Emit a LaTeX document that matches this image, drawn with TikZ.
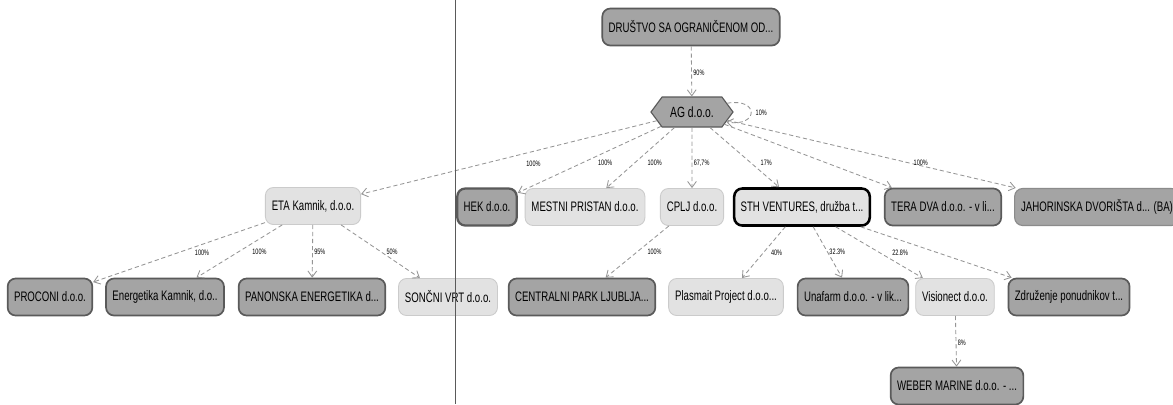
\documentclass[tikz,border=0pt]{standalone}
\usepackage{fontspec}
\newfontfamily\narrowfont[FakeStretch=0.7]{Liberation Sans}
\usetikzlibrary{shapes.symbols,arrows.meta,positioning}
\definecolor{boxlight}{HTML}{E2E2E2}
\definecolor{boxdark}{HTML}{A4A4A4}
\definecolor{rimdark}{HTML}{5A5A5A}
\definecolor{linkgray}{HTML}{959595}

\begin{document}
\begin{tikzpicture}[x=0.025cm, y=-0.025cm,
  firm/.style={rectangle, rounded corners=0.2cm, minimum height=0.925cm, inner xsep=0.16cm, font=\narrowfont\fontsize{9.8}{10}\selectfont,
    fill=boxlight, draw=boxlight!90!black, line width=0.6pt},
  firmdark/.style={firm, fill=boxdark, draw=rimdark, line width=1.2pt},
  firmsel/.style={firm, draw=black, line width=1.8pt},
  hexfirm/.style={signal, signal to=east and west, signal pointer angle=107, minimum width=2.05cm, minimum height=0.75cm,
    font=\narrowfont\fontsize{10.5}{11}\selectfont, fill=boxdark, draw=rimdark, line width=0.8pt, inner xsep=0.1cm},
  link/.style={-{Straight Barb[length=1.5mm, width=2.2mm]}, densely dashed, linkgray, line width=0.6pt},
  lbl/.style={font=\narrowfont\fontsize{5.6}{6}\selectfont, text=black, anchor=west, inner sep=1pt}
]
  \useasboundingbox (0,0) rectangle (1173,404);
  \clip (0,0) rectangle (1173,404);
  \fill[white] (0,0) rectangle (1173,404);

  % owner and holding
  \node[firmdark] (drustvo) at (691,27) {DRUŠTVO SA OGRANIČENOM OD...};
  \node[hexfirm] (ag) at (692,112) {AG d.o.o.};

  % first level
  \node[firm] (eta) at (313,206) {ETA Kamnik, d.o.o.};
  \node[firmdark, line width=1.6pt] (hek) at (487,207) {HEK d.o.o.};
  \node[firm] (mestni) at (585,207) {MESTNI PRISTAN d.o.o.};
  \node[firm] (cplj) at (692,207) {CPLJ d.o.o.};
  \node[firmsel] (sth) at (802,207) {STH VENTURES, družba t...};
  \node[firmdark] (teradva) at (943,207) {TERA DVA d.o.o. - v li...};
  \node[firmdark, draw=boxdark!85!black, line width=0.8pt] (jahorinska) at (1097,207) {JAHORINSKA DVORIŠTA d... (BA)};

  % second level
  \node[firmdark] (proconi) at (50,297) {PROCONI d.o.o.};
  \node[firmdark] (energetika) at (165,297) {Energetika Kamnik, d.o..};
  \node[firmdark] (panonska) at (312,297) {PANONSKA ENERGETIKA d...};
  \node[firm] (soncni) at (448,297) {SONČNI VRT d.o.o.};
  \node[firmdark] (centralni) at (582,297) {CENTRALNI PARK LJUBLJA...};
  \node[firm] (plasmait) at (726,297) {Plasmait Project d.o.o...};
  \node[firmdark] (unafarm) at (853,297) {Unafarm d.o.o. - v lik...};
  \node[firm] (visionect) at (955,297) {Visionect d.o.o.};
  \node[firmdark] (zdruzenje) at (1069,297) {Združenje ponudnikov t...};
  \node[firmdark] (weber) at (957,386) {WEBER MARINE d.o.o. - ...};

  % ownership links
  \draw[link] (drustvo) -- node[lbl, pos=0.53] {90\%} (ag);
  \draw[link] (ag.14) to[out=10, in=-10, looseness=4.5] node[lbl, pos=0.5, xshift=2] {10\%} (ag.-16);
  \draw[link] (ag) -- node[lbl, pos=0.58, xshift=28] {100\%} (eta);
  \draw[link] (ag) -- node[lbl, pos=0.55, xshift=10] {100\%} (hek);
  \draw[link] (ag) -- node[lbl, pos=0.585, xshift=8] {100\%} (mestni);
  \draw[link] (ag) -- node[lbl, pos=0.585] {67,7\%} (cplj);
  \draw[link] (ag) -- node[lbl, pos=0.585, xshift=6] {17\%} (sth);
  \draw[link] (ag) -- (teradva);
  \draw[link] (ag) -- node[lbl, pos=0.63, xshift=2] {100\%} (jahorinska);

  \draw[link] (eta) -- node[lbl, pos=0.5, xshift=10] {100\%} (proconi);
  \draw[link] (eta) -- node[lbl, pos=0.5, xshift=8] {100\%} (energetika);
  \draw[link] (eta) -- node[lbl, pos=0.5] {95\%} (panonska);
  \draw[link] (eta) -- node[lbl, pos=0.5, xshift=3] {50\%} (soncni);
  \draw[link] (cplj) -- node[lbl, pos=0.5, xshift=6] {100\%} (centralni);
  \draw[link] (sth) -- node[lbl, pos=0.5, xshift=4] {40\%} (plasmait);
  \draw[link] (sth) -- node[lbl, pos=0.5] {32.3\%} (unafarm);
  \draw[link] (sth) -- node[lbl, pos=0.5, xshift=8] {22.8\%} (visionect);
  \draw[link] (sth) -- (zdruzenje);
  \draw[link] (visionect) -- node[lbl, pos=0.53] {8\%} (weber);

  % page fold
  \draw[rimdark, line width=0.7pt] (455,0) -- (455,404);
\end{tikzpicture}
\end{document}
